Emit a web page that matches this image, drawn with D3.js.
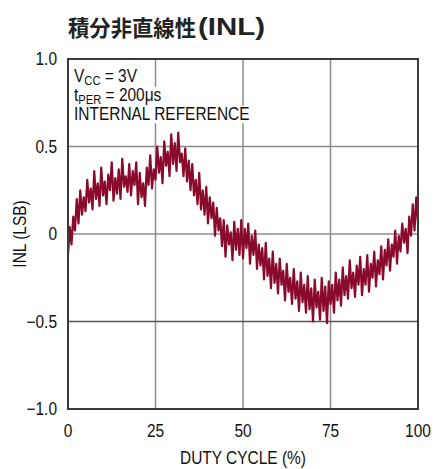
<!DOCTYPE html>
<html>
<head>
<meta charset="utf-8">
<script src="https://cdn.jsdelivr.net/npm/d3@7"></script>
<style>
  body { margin: 0; background: #fff; }
  svg { display: block; }
  .lbl { font-family: "Liberation Sans", Arial, sans-serif; fill: #111; }
</style>
</head>
<body>
<svg id="chart"></svg>
<script>
var titleMain = "積分非直線性";
var titleTail = "(INL)";
var xTicks = [0, 25, 50, 75, 100];
var yTicks = [-1.0, -0.5, 0, 0.5, 1.0];
var yTickLabels = ["\u22121.0", "\u22120.5", "0", "0.5", "1.0"];
var xLabel = "DUTY CYCLE (%)";
var yLabel = "INL (LSB)";
var sampleStep = 0.5; // duty cycle spacing of the INL readings

// INL readings (LSB), one every 0.5% duty cycle from 0 to 100
var inlValues = [
  -0.12, 0.04, -0.06, 0.10, 0.02, 0.20, 0.06, 0.25, 0.11, 0.21,
  0.13, 0.31, 0.18, 0.26, 0.14, 0.36, 0.20, 0.29, 0.16, 0.38,
  0.22, 0.30, 0.17, 0.34, 0.25, 0.41, 0.19, 0.32, 0.23, 0.37,
  0.20, 0.43, 0.27, 0.33, 0.24, 0.40, 0.22, 0.36, 0.28, 0.41,
  0.17, 0.35, 0.21, 0.29, 0.16, 0.38, 0.28, 0.45, 0.26, 0.37,
  0.31, 0.50, 0.35, 0.44, 0.29, 0.53, 0.39, 0.47, 0.33, 0.57,
  0.40, 0.52, 0.36, 0.58, 0.41, 0.46, 0.33, 0.49, 0.30, 0.42,
  0.25, 0.40, 0.22, 0.31, 0.17, 0.35, 0.14, 0.25, 0.11, 0.27,
  0.06, 0.21, 0.09, 0.18, -0.01, 0.15, 0.02, 0.09, -0.07, 0.08,
  -0.13, 0.05, -0.06, 0.01, -0.15, 0.07, -0.09, 0.03, -0.12, 0.08,
  -0.14, 0.03, -0.08, 0.06, -0.17, -0.01, -0.12, 0.02, -0.20, -0.06,
  -0.18, -0.08, -0.26, -0.05, -0.24, -0.14, -0.31, -0.10, -0.28, -0.17,
  -0.34, -0.14, -0.29, -0.21, -0.38, -0.17, -0.33, -0.25, -0.40, -0.20,
  -0.37, -0.27, -0.44, -0.22, -0.39, -0.29, -0.45, -0.24, -0.43, -0.31,
  -0.50, -0.26, -0.42, -0.33, -0.49, -0.25, -0.44, -0.30, -0.51, -0.27,
  -0.40, -0.29, -0.45, -0.22, -0.38, -0.26, -0.41, -0.19, -0.35, -0.24,
  -0.37, -0.15, -0.31, -0.22, -0.36, -0.18, -0.29, -0.13, -0.35, -0.20,
  -0.29, -0.12, -0.33, -0.17, -0.25, -0.10, -0.30, -0.15, -0.23, -0.07,
  -0.26, -0.09, -0.18, -0.03, -0.21, -0.06, -0.13, 0.02, -0.17, -0.01,
  -0.10, 0.06, -0.05, 0.03, -0.11, 0.10, -0.01, 0.17, 0.02, 0.21,
  0.06
];

var W = 435, H = 469;
var margin = {top: 59, right: 17, bottom: 60, left: 68},
    width = W - margin.left - margin.right,
    height = H - margin.top - margin.bottom;
var squeeze = 0.86; // the original face is condensed

var svg = d3.select("#chart").attr("width", W).attr("height", H);

// text drawn at (px, py), narrowed horizontally
function addText(parent, px, py, str, size, anchor) {
  var t = parent.append("g")
    .attr("transform", "translate(" + px + "," + py + ") scale(" + squeeze + ",1)")
    .append("text")
    .attr("class", "lbl")
    .attr("text-anchor", anchor || "start")
    .style("font-size", size + "px");
  if (str !== null) t.text(str);
  return t;
}

// title
svg.append("text")
  .attr("x", 68).attr("y", 36)
  .attr("textLength", 128).attr("lengthAdjust", "spacingAndGlyphs")
  .style("font-family", "'Noto Sans CJK JP', sans-serif")
  .style("font-weight", "bold").style("font-size", "22px")
  .attr("fill", "#222")
  .text(titleMain);
svg.append("text")
  .attr("x", 198).attr("y", 35)
  .attr("textLength", 67).attr("lengthAdjust", "spacingAndGlyphs")
  .style("font-family", "'Liberation Sans', Arial, sans-serif")
  .style("font-weight", "bold").style("font-size", "24px")
  .attr("fill", "#222")
  .text(titleTail);

var g = svg.append("g").attr("transform", "translate(" + margin.left + "," + margin.top + ")");

var x = d3.scaleLinear().domain([0, 100]).range([0, width]);
var y = d3.scaleLinear().domain([-1, 1]).range([height, 0]);

// grid
g.selectAll(".vgrid").data(xTicks.slice(1, -1)).enter().append("line")
  .attr("x1", d => x(d)).attr("x2", d => x(d))
  .attr("y1", 0).attr("y2", height)
  .attr("stroke", "#8c8c8c").attr("stroke-width", 1.5);
g.selectAll(".hgrid").data(yTicks.slice(1, -1)).enter().append("line")
  .attr("x1", 0).attr("x2", width)
  .attr("y1", d => y(d)).attr("y2", d => y(d))
  .attr("stroke", d => d == -0.5 ? "#555" : "#8c8c8c").attr("stroke-width", 1.5);

// notes, each line on a white strip that hides the grid
var notes = g.append("g");
var noteLines = [
  {y: 23, parts: [["V", 0], ["CC", 1], [" = 3V", 0]]},
  {y: 42, parts: [["t", 0], ["PER", 1], [" = 200\u03bcs", 0]]},
  {y: 61, parts: [["INTERNAL REFERENCE", 0]]}
];
noteLines.forEach(function (ln) {
  var t = addText(notes, 6, ln.y, null, 18);
  ln.parts.forEach(function (p, i) {
    var s = t.append("tspan").text(p[0]);
    if (p[1]) s.attr("dy", 3).style("font-size", "13px");
    else if (i > 0) s.attr("dy", -3);
  });
  var bb = t.node().getBBox();
  d3.select(t.node().parentNode).insert("rect", "text")
    .attr("x", bb.x - 2).attr("y", bb.y + 2).attr("width", bb.width + 4).attr("height", bb.height - 3)
    .attr("fill", "#fff");
});

// INL trace
var line = d3.line()
  .x((d, i) => x(i * sampleStep))
  .y(d => y(d));
g.append("path")
  .datum(inlValues)
  .attr("fill", "none")
  .attr("stroke", "#8a0a2c")
  .attr("stroke-width", 2.2)
  .attr("stroke-linejoin", "round")
  .attr("d", line);

// frame
g.append("rect").attr("x", 0).attr("y", 0).attr("width", width).attr("height", height)
  .attr("fill", "none").attr("stroke", "#3a3a3a").attr("stroke-width", 2);

// tick labels
xTicks.forEach(function (d) {
  addText(g, x(d), height + 28, d, 18, "middle");
});
yTicks.forEach(function (d, i) {
  addText(g, -11, y(d) + 6, yTickLabels[i], 18, "end");
});

// axis titles
addText(g, width / 2, height + 55, xLabel, 18, "middle");
g.append("g")
  .attr("transform", "translate(" + (-margin.left + 26) + "," + (height / 2) + ") rotate(-90) scale(" + squeeze + ",1)")
  .append("text").attr("class", "lbl")
  .attr("text-anchor", "middle").style("font-size", "18px")
  .text(yLabel);
</script>
</body>
</html>
